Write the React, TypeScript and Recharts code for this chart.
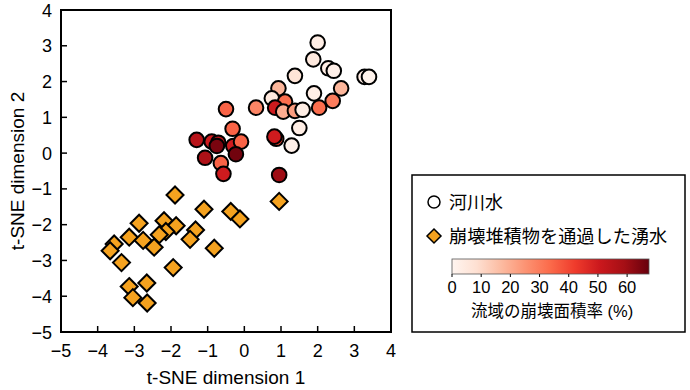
import React from 'react';
import { ScatterChart, Scatter, XAxis, YAxis, ReferenceArea, Legend } from 'recharts';

// ---- data ----
const riverX = [2.0, 1.88, 2.29, 2.44, 3.28, 3.4, 1.38, 0.93, 2.64, 1.9, 2.41, 2.04, 0.75, 1.11, 0.84, 1.06, 1.38, 1.59, 0.32, -0.5, 1.5, 0.87, 0.82, 1.29, -0.32, -1.3, -0.89, -0.71, -0.75, -0.3, -0.09, -0.23, -1.07, -0.64, -0.57, 0.95];
const riverY = [3.09, 2.62, 2.37, 2.3, 2.13, 2.13, 2.16, 1.81, 1.81, 1.67, 1.46, 1.27, 1.53, 1.44, 1.27, 1.16, 1.18, 1.21, 1.27, 1.23, 0.7, 0.4, 0.46, 0.21, 0.68, 0.37, 0.32, 0.29, 0.2, 0.2, 0.32, -0.03, -0.13, -0.28, -0.58, -0.61];
const riverRate = [3, 5, 3, 2, 4, 1, 7, 18, 18, 3, 30, 33, 5, 33, 50, 20, 23, 3, 28, 35, 3, 40, 50, 2, 35, 55, 50, 55, 65, 50, 35, 66, 57, 35, 50, 60];

const springX = [-1.89, -1.1, -0.37, -0.12, 0.95, -2.87, -2.19, -1.86, -2.14, -2.32, -3.14, -2.76, -2.46, -3.55, -3.66, -3.35, -1.33, -1.48, -0.82, -1.94, -3.14, -2.66, -3.04, -2.65];
const springY = [-1.17, -1.57, -1.63, -1.84, -1.35, -1.96, -1.89, -2.03, -2.19, -2.28, -2.35, -2.44, -2.63, -2.54, -2.73, -3.06, -2.15, -2.41, -2.66, -3.2, -3.73, -3.63, -4.04, -4.19];

const axisTicks = [-5, -4, -3, -2, -1, 0, 1, 2, 3, 4];
const cbarTicks = [0, 10, 20, 30, 40, 50, 60];
const cbarMax = 67.5;
const legendLabels = ['河川水', '崩壊堆積物を通過した湧水'];
const cbarTitle = '流域の崩壊面積率 (%)';
const xTitle = 't-SNE dimension 1';
const yTitle = 't-SNE dimension 2';

// ---- styling helpers ----
const FONT = "'Liberation Sans', Arial, 'Noto Sans CJK JP', sans-serif";
const REDS = ['#fff5f0', '#fee0d2', '#fcbba1', '#fc9272', '#fb6a4a', '#ef3b2c', '#cb181d', '#a50f15', '#67000d'];
const ORANGE = '#f5a21f';

const hexToRgb = (h: string) => [parseInt(h.slice(1, 3), 16), parseInt(h.slice(3, 5), 16), parseInt(h.slice(5, 7), 16)];
const redsColor = (v: number) => {
  const t = Math.max(0, Math.min(1, v / cbarMax));
  const pos = t * (REDS.length - 1);
  const i = Math.min(REDS.length - 2, Math.floor(pos));
  const f = pos - i;
  const a = hexToRgb(REDS[i]);
  const b = hexToRgb(REDS[i + 1]);
  const c = a.map((av, k) => Math.round(av + (b[k] - av) * f));
  return `rgb(${c[0]},${c[1]},${c[2]})`;
};

const riverData = riverX.map((x, i) => ({ x, y: riverY[i], rate: riverRate[i] }));
const springData = springX.map((x, i) => ({ x, y: springY[i] }));

const fmt = (v: number) => (v < 0 ? '\u2212' + Math.abs(v) : String(v));

const XTick = (p: any) => {
  const { x, y, payload } = p;
  return (
    <g>
      <line x1={x} y1={y} x2={x} y2={y - 6} stroke="#000" strokeWidth={1.5} />
      <text x={x} y={y + 25} textAnchor="middle" fontSize={18} fill="#000" fontFamily={FONT}>{fmt(payload.value)}</text>
    </g>
  );
};

const YTick = (p: any) => {
  const { x, y, payload } = p;
  return (
    <g>
      <line x1={x} y1={y} x2={x + 6} y2={y} stroke="#000" strokeWidth={1.5} />
      <text x={x - 9} y={y + 6.5} textAnchor="end" fontSize={18} fill="#000" fontFamily={FONT}>{fmt(payload.value)}</text>
    </g>
  );
};

const CircleShape = (p: any) => (
  <circle cx={p.cx} cy={p.cy} r={7.3} fill={redsColor(p.payload.rate)} stroke="#000" strokeWidth={2} />
);

const DiamondShape = (p: any) => {
  const r = 8.5;
  const { cx, cy } = p;
  return (
    <polygon
      points={`${cx},${cy - r} ${cx + r},${cy} ${cx},${cy + r} ${cx - r},${cy}`}
      fill={ORANGE}
      stroke="#000"
      strokeWidth={2}
      strokeLinejoin="miter"
    />
  );
};

const LegendBox = () => {
  const barX = 41;
  const barY = 85;
  const barW = 197;
  const barH = 15;
  return (
    <svg width={276} height={160} style={{ display: 'block', overflow: 'visible' }}>
      <defs>
        <linearGradient id="redsGrad" x1="0" y1="0" x2="1" y2="0">
          {REDS.map((c, i) => (
            <stop key={i} offset={i / (REDS.length - 1)} stopColor={c} />
          ))}
        </linearGradient>
      </defs>
      <rect x={1} y={1} width={273} height={157} fill="#fff" stroke="#000" strokeWidth={1.5} />
      <circle cx={23} cy={28} r={6} fill="#fff" stroke="#000" strokeWidth={1.5} />
      <text x={38} y={34.5} fontSize={18} fontFamily={FONT} fill="#000">{legendLabels[0]}</text>
      <polygon points="23,55 30,62 23,69 16,62" fill={ORANGE} stroke="#000" strokeWidth={1.5} />
      <text x={38} y={68.5} fontSize={18.2} fontFamily={FONT} fill="#000">{legendLabels[1]}</text>
      <rect x={barX} y={barY} width={barW} height={barH} fill="url(#redsGrad)" stroke="#555" strokeWidth={0.8} />
      {cbarTicks.map((t) => {
        const tx = barX + (t / cbarMax) * barW;
        return (
          <g key={t}>
            <line x1={tx} y1={barY + barH} x2={tx} y2={barY + barH + 3} stroke="#000" strokeWidth={1} />
            <text x={tx} y={119} textAnchor="middle" fontSize={16.5} fontFamily={FONT} fill="#000">{t}</text>
          </g>
        );
      })}
      <text x={141} y={143} textAnchor="middle" fontSize={16.5} fontFamily={FONT} fill="#000">{cbarTitle}</text>
    </svg>
  );
};

const XLabel = (p: any) => {
  const vb = p.viewBox || { x: 61, y: 332, width: 330 };
  return (
    <text x={vb.x + vb.width / 2} y={vb.y + 52} textAnchor="middle" fontSize={19} fontFamily={FONT} fill="#000">{xTitle}</text>
  );
};

const YLabel = (p: any) => {
  const vb = p.viewBox || { x: 11, y: 10, height: 322 };
  const cy = vb.y + vb.height / 2;
  return (
    <text x={0} y={0} transform={`translate(24, ${cy}) rotate(-90)`} textAnchor="middle" fontSize={19} fontFamily={FONT} fill="#000">{yTitle}</text>
  );
};

export default function App() {
  return (
    <div style={{ position: 'absolute', left: 0, top: 0, width: 690, height: 390, background: '#fff' }}>
      <ScatterChart width={690} height={390} margin={{ top: 10, right: 299, bottom: 28, left: 11 }}>
        <XAxis
          type="number"
          dataKey="x"
          domain={[-5, 4]}
          ticks={axisTicks}
          interval={0}
          allowDataOverflow
          height={30}
          tickSize={0}
          tickMargin={0}
          tickLine={false}
          axisLine={{ stroke: '#000', strokeWidth: 2 }}
          tick={<XTick />}
          label={{ content: <XLabel /> }}
        />
        <YAxis
          type="number"
          dataKey="y"
          domain={[-5, 4]}
          ticks={axisTicks}
          interval={0}
          allowDataOverflow
          width={50}
          tickSize={0}
          tickMargin={0}
          tickLine={false}
          axisLine={{ stroke: '#000', strokeWidth: 2 }}
          tick={<YTick />}
          label={{ content: <YLabel /> }}
        />
        <ReferenceArea x1={-5} x2={4} y1={-5} y2={4} fill="none" fillOpacity={0} stroke="#000" strokeWidth={2} />
        <Legend
          layout="vertical"
          align="center"
          verticalAlign="middle"
          wrapperStyle={{ left: 411, top: 174, width: 276, height: 160 }}
          content={() => <LegendBox />}
        />
        <Scatter name="river" data={riverData} shape={CircleShape} isAnimationActive={false} />
        <Scatter name="spring" data={springData} shape={DiamondShape} isAnimationActive={false} />
      </ScatterChart>
    </div>
  );
}
